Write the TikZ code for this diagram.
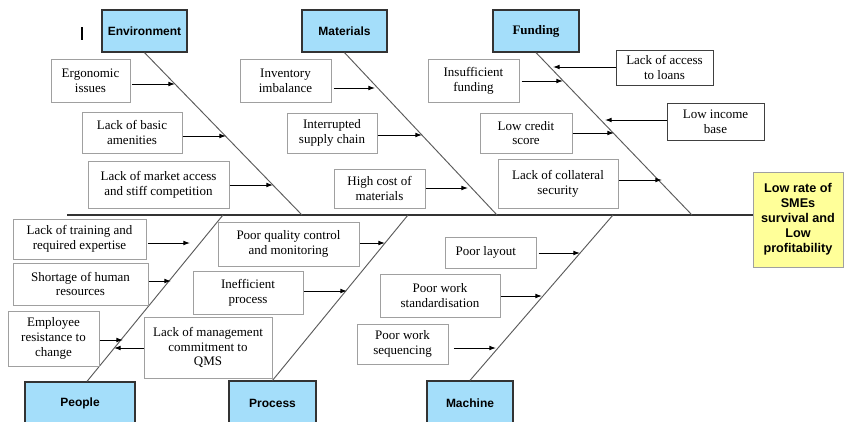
\documentclass[tikz,border=0pt]{standalone}
\usepackage{fontspec}
\setmainfont{Liberation Serif}
\newfontfamily\arialf{Liberation Sans}
\usetikzlibrary{arrows.meta,calc}
\definecolor{catblue}{RGB}{164,222,250}
\definecolor{effyellow}{RGB}{255,255,153}
\definecolor{boxgray}{RGB}{160,160,160}
\definecolor{bonegray}{RGB}{90,90,90}
\newcommand\bx[7][cause]{\node[#1, minimum width={(#5-#3)*0.75pt}, minimum height={(#6-#4)*0.75pt}] (#2) at ({(#3+#5)/2},{(#4+#6)/2}) {#7};}
\begin{document}
\begin{tikzpicture}[x=0.75pt,y=-0.75pt,
 cause/.style={draw=boxgray, line width=0.75pt, fill=white, align=center, inner sep=0pt, font=\fontsize{9.75}{11.1}\selectfont},
 causedark/.style={cause, draw=black!75},
 cat/.style={draw=black!80, line width=0.9pt, fill=catblue, align=center, inner sep=0pt, font=\arialf\bfseries\fontsize{9}{11}\selectfont},
 effect/.style={draw=boxgray, line width=0.75pt, fill=effyellow, align=center, inner sep=0pt, font=\arialf\bfseries\fontsize{9.5}{11.25}\selectfont},
 bone/.style={draw=bonegray, line width=0.7pt},
 spine/.style={draw=black!80, line width=0.9pt},
 arr/.style={draw=black, line width=0.7pt, -{Latex[length=5pt,width=3.6pt]}}
]
\useasboundingbox (0,0) rectangle (845,421);
\clip (0,0) rectangle (845,421);

% spine and bones
\coordinate (tail) at (67,215);
\coordinate (sEnv) at (302,215);
\coordinate (sMat) at (497,215);
\coordinate (sFund) at (692,215);
\coordinate (sPeo) at (223,215);
\coordinate (sPro) at (408,215);
\coordinate (sMac) at (613,215);

% category boxes
\bx[cat]{env}{102}{10}{187}{52}{Environment}
\bx[cat]{mat}{302}{10}{387}{52}{Materials}
\bx[cat, font=\bfseries\fontsize{9.75}{11}\selectfont]{fund}{493}{10}{579}{52}{Funding}
\bx[cat]{peo}{25}{382}{135}{425}{People}
\bx[cat]{proc}{229}{381}{316}{425}{Process}
\bx[cat]{mach}{427}{381}{513}{425}{Machine}
\bx[effect]{eff}{753}{172}{843}{267}{Low rate of\\SMEs\\survival and\\Low\\profitability}

\draw[spine] (tail) -- (eff.west |- tail);
\draw[bone] (env.south) -- (sEnv);
\draw[bone] (mat.south) -- (sMat);
\draw[bone] (fund.south) -- (sFund);
\draw[bone] (sPeo) -- ($(peo.north)+(7,0)$);
\draw[bone] (sPro) -- (proc.north);
\draw[bone] (sMac) -- (mach.north);

% small tick mark
\draw[line width=0.9pt] (82,27) -- (82,40);

% Environment causes
\bx{e1}{51}{59}{130}{102}{Ergonomic\\issues}
\bx{e2}{82}{112}{182}{153}{Lack of basic\\amenities}
\bx{e3}{88}{161}{229}{208}{Lack of market access\\and stiff competition}
\coordinate (ae1) at (175,84);
\coordinate (ae2) at (226,136);
\coordinate (ae3) at (273,185);
\draw[arr, shorten <=1pt] (e1.east |- ae1) -- (ae1);
\draw[arr] (e2.east |- ae2) -- (ae2);
\draw[arr] (e3.east |- ae3) -- (ae3);

% Materials causes
\bx{m1}{240}{59}{331}{102}{Inventory\\imbalance}
\bx{m2}{287}{113}{377}{153}{Interrupted\\supply chain}
\bx{m3}{334}{169}{425}{208}{High cost of\\materials}
\coordinate (am1) at (375,88);
\coordinate (am2) at (422,135);
\coordinate (am3) at (468,188);
\draw[arr, shorten <=1.5pt] (m1.east |- am1) -- (am1);
\draw[arr] (m2.east |- am2) -- (am2);
\draw[arr] (m3.east |- am3) -- (am3);

% Funding causes
\bx{f1}{428}{59}{519}{102}{Insufficient\\funding}
\bx{f2}{480}{113}{572}{153}{Low credit\\score}
\bx{f3}{498}{159}{618}{208}{Lack of collateral\\security}
\bx[causedark]{f4}{616}{50}{713}{85}{Lack of access\\to loans}
\bx[causedark]{f5}{667}{103}{764}{140}{Low income\\base}
\coordinate (af1) at (563,81);
\coordinate (af2) at (614,133);
\coordinate (af3) at (662,180);
\coordinate (af4) at (553,67);
\coordinate (af5) at (605,120);
\draw[arr, shorten <=1.5pt] (f1.east |- af1) -- (af1);
\draw[arr] (f2.east |- af2) -- (af2);
\draw[arr] (f3.east |- af3) -- (af3);
\draw[arr] (f4.west |- af4) -- (af4);
\draw[arr] (f5.west |- af5) -- (af5);

% People causes
\bx{p1}{13}{219}{146}{259}{Lack of training and\\required expertise}
\bx{p2}{13}{263}{148}{305}{Shortage of human\\resources}
\bx{p3}{8}{311}{99}{366}{Employee\\resistance to\\change}
\bx{p4}{144}{317}{272}{378}{Lack of management\\commitment to\\QMS}
\coordinate (ap1) at (190,243);
\coordinate (ap2) at (171,281);
\coordinate (ap3) at (123,340);
\coordinate (ap4) at (114,348);
\draw[arr, shorten <=1pt] (p1.east |- ap1) -- (ap1);
\draw[arr] (p2.east |- ap2) -- (ap2);
\draw[arr] (p3.east |- ap3) -- (ap3);
\draw[arr] (p4.west |- ap4) -- (ap4);

% Process causes
\bx{r1}{218}{222}{359}{266}{Poor quality control\\and monitoring}
\bx{r2}{193}{271}{303}{314}{Inefficient\\process}
\coordinate (ar1) at (385,243);
\coordinate (ar2) at (347,291);
\draw[arr] (r1.east |- ar1) -- (ar1);
\draw[arr] (r2.east |- ar2) -- (ar2);

% Machine causes
\bx{k1}{445}{237}{536}{268}{Poor layout\hspace{7pt}}
\bx{k2}{380}{274}{500}{317}{Poor work\\standardisation}
\bx{k3}{357}{324}{448}{364}{Poor work\\sequencing}
\coordinate (ak1) at (580,253);
\coordinate (ak2) at (542,296);
\coordinate (ak3) at (496,348);
\draw[arr, shorten <=1.5pt] (k1.east |- ak1) -- (ak1);
\draw[arr] (k2.east |- ak2) -- (ak2);
\draw[arr, shorten <=4pt] (k3.east |- ak3) -- (ak3);
\end{tikzpicture}
\end{document}
